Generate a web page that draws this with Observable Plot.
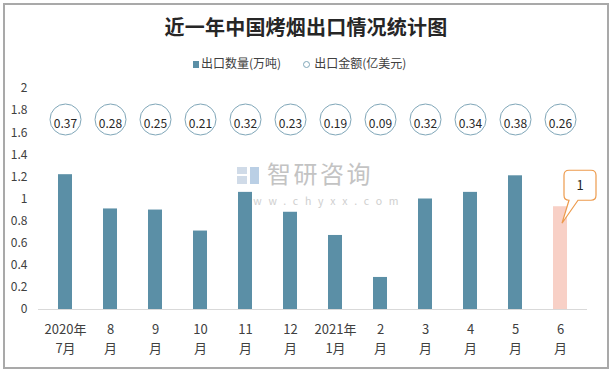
<!DOCTYPE html>
<html>
<head>
<meta charset="utf-8">
<script src="https://cdn.jsdelivr.net/npm/d3@7"></script>
<script src="https://cdn.jsdelivr.net/npm/@observablehq/plot@0.6"></script>
<style>
  body { margin: 0; background: #fff; font-family: "Noto Sans CJK SC", "Noto Sans", sans-serif; }
  #wrap { position: relative; width: 612px; height: 372px; overflow: hidden; background: #fff; }
  #frame { position: absolute; left: 3px; top: 3px; width: 602px; height: 362px; border: 2px solid #a9a9a9; }
  #title { position: absolute; left: 0; top: 13px; width: 612px; text-align: center; font-size: 20px; font-weight: bold; color: #262626; line-height: 28px; letter-spacing: 0.2px; }
  #legend { position: absolute; top: 54px; left: 193px; font-size: 12px; color: #404040; line-height: 18px; white-space: nowrap; }
  #legend span.sq { display: inline-block; width: 6px; height: 7px; background: #5b8fa6; margin-right: 2px; }
  #legend span.ci { display: inline-block; width: 5px; height: 5px; border: 1px solid #7fa6b8; border-radius: 50%; margin-left: 22px; margin-right: 4px; }
  #chart { position: absolute; left: 0; top: 75px; }
</style>
</head>
<body>
<div id="wrap">
  <div id="frame"></div>
  <div id="title">近一年中国烤烟出口情况统计图</div>
  <div id="legend"><span class="sq"></span>出口数量(万吨)<span class="ci"></span>出口金额(亿美元)</div>
  <div id="chart"></div>
</div>
<script>
// ---- data ----
const monthLine1 = ["2020年", "8", "9", "10", "11", "12", "2021年", "2", "3", "4", "5", "6"];
const monthLine2 = ["7月", "月", "月", "月", "月", "月", "1月", "月", "月", "月", "月", "月"];
const quantity = [1.22, 0.91, 0.90, 0.71, 1.06, 0.88, 0.67, 0.29, 1.00, 1.06, 1.21, 0.93]; // 出口数量(万吨)
const amount = ["0.37", "0.28", "0.25", "0.21", "0.32", "0.23", "0.19", "0.09", "0.32", "0.34", "0.38", "0.26"]; // 出口金额(亿美元)
const yTicks = [0, 0.2, 0.4, 0.6, 0.8, 1, 1.2, 1.4, 1.6, 1.8, 2];
const highlightIndex = 11;
const calloutLabel = "1";

const categories = monthLine1.map((d, i) => d + "\n" + monthLine2[i]);
const rows = categories.map((c, i) => ({cat: c, q: quantity[i], amt: amount[i], hi: i === highlightIndex}));

const barColor = "#5b8fa6";
const hiColor = "#f8d0c6";

function callout(index, scales, values, dimensions) {
  const row = rows[highlightIndex];
  const bx = scales.x(row.cat) + scales.x.bandwidth() / 2;
  const by = scales.y(row.q);
  const x0 = bx + 4, x1 = bx + 36, y0 = by - 36, y1 = by - 6, r = 5;
  const tipX = bx + 2, tipY = by + 17;
  const p = d3.path();
  p.moveTo(x0 + r, y0);
  p.lineTo(x1 - r, y0); p.quadraticCurveTo(x1, y0, x1, y0 + r);
  p.lineTo(x1, y1 - r); p.quadraticCurveTo(x1, y1, x1 - r, y1);
  p.lineTo(bx + 18, y1); p.lineTo(tipX, tipY); p.lineTo(bx + 9, y1);
  p.lineTo(x0 + r, y1); p.quadraticCurveTo(x0, y1, x0, y1 - r);
  p.lineTo(x0, y0 + r); p.quadraticCurveTo(x0, y0, x0 + r, y0);
  p.closePath();
  const g = d3.create("svg:g");
  g.append("path").attr("d", p.toString()).attr("fill", "#fff").attr("stroke", "#ed9b4d").attr("stroke-width", 1.2);
  g.append("text").attr("x", (x0 + x1) / 2).attr("y", (y0 + y1) / 2).attr("dy", "0.35em")
    .attr("text-anchor", "middle").attr("font-size", 13).attr("fill", "#262626").text(calloutLabel);
  return g.node();
}

function watermark(index, scales, values, dimensions) {
  const g = d3.create("svg:g").attr("opacity", 0.8).attr("text-anchor", "start");
  // logo blocks
  g.append("rect").attr("x", 237).attr("y", 92).attr("width", 10).attr("height", 7).attr("fill", "#c5d3e3");
  g.append("rect").attr("x", 237).attr("y", 101).attr("width", 10).attr("height", 8).attr("fill", "#c5d3e3");
  g.append("rect").attr("x", 250).attr("y", 92).attr("width", 9).attr("height", 17).attr("fill", "#a9c4df");
  g.append("text").attr("x", 267).attr("y", 100).attr("dy", "0.35em").attr("font-size", 24)
    .attr("fill", "#b5b5b5").attr("text-anchor", "start").attr("letter-spacing", 2.5).text("智研咨询");
  g.append("text").attr("x", 238).attr("y", 126).attr("dy", "0.35em").attr("font-size", 10.5)
    .attr("fill", "#c4c4c4").attr("text-anchor", "start").attr("letter-spacing", 6.8).text("www.chyxx.com");
  return g.node();
}

const chart = Plot.plot({
  width: 612,
  height: 297,
  marginTop: 13,
  marginBottom: 63,
  marginLeft: 38,
  marginRight: 25,
  style: {fontFamily: "'Noto Sans CJK SC', 'Noto Sans', sans-serif", background: "transparent", color: "#595959"},
  x: {domain: categories, paddingInner: 0.68, paddingOuter: 0.34, label: null},
  y: {domain: [0, 2], label: null},
  marks: [
    watermark,
    Plot.barY(rows, {x: "cat", y: "q", fill: d => d.hi ? hiColor : barColor}),
    Plot.ruleY([0], {stroke: "#d9d9d9", strokeWidth: 1}),
    Plot.axisY({ticks: yTicks, tickSize: 0, tickPadding: 11, fontSize: 12, fill: "#404040", tickFormat: d => String(+d.toFixed(1)), label: null}),
    Plot.axisX({tickSize: 0, tickPadding: 12, fontSize: 13, fill: "#404040", lineHeight: 1.4, label: null}),
    Plot.dot(rows, {x: "cat", frameAnchor: "top", dy: 31, r: 15.5, fill: "#fff", stroke: "#7fa6b8", strokeWidth: 1}),
    Plot.text(rows, {x: "cat", frameAnchor: "top", dy: 31, text: "amt", fontSize: 12, fill: "#262626"}),
    callout
  ]
});
document.getElementById("chart").appendChild(chart);
</script>
</body>
</html>
